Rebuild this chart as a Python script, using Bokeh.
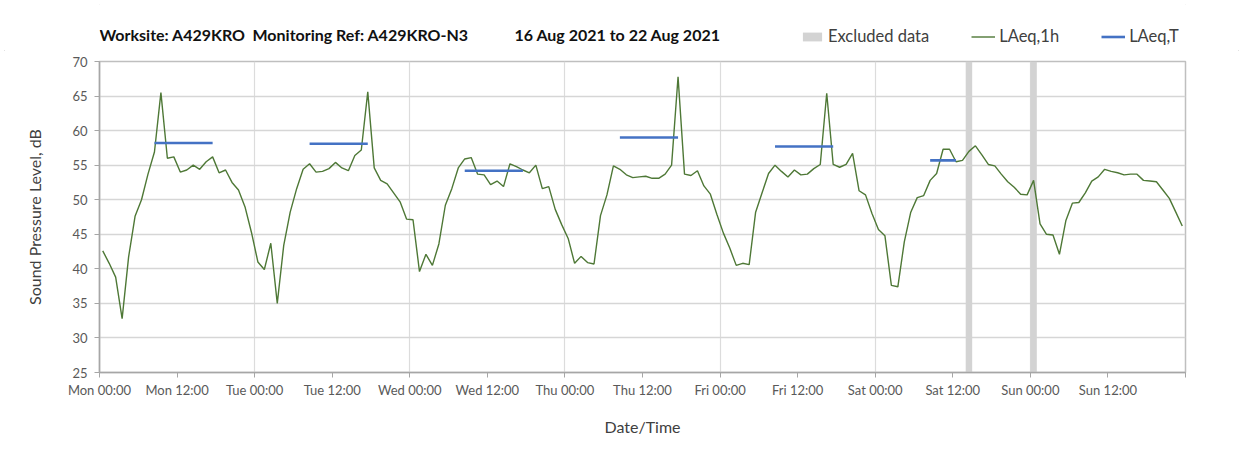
import numpy as np
from bokeh.plotting import figure
from bokeh.layouts import column
from bokeh.models import Legend, LegendItem, Label, FixedTicker, Range1d
from bokeh.embed import file_html
from bokeh.resources import INLINE

# ---------------- data ----------------
laeq_1h = [
    42.6, 40.8, 38.8, 32.8, 41.7, 47.6, 50.0, 53.7, 56.9, 65.5, 56.0, 56.2,
    54.0, 54.3, 55.0, 54.4, 55.5, 56.2, 53.9, 54.3, 52.5, 51.4, 49.0, 45.3,
    41.0, 39.9, 43.7, 35.0, 43.4, 48.2, 51.6, 54.4, 55.2, 54.0, 54.1, 54.5,
    55.4, 54.6, 54.2, 56.4, 57.2, 65.6, 54.6, 52.8, 52.3, 51.0, 49.7, 47.2,
    47.1, 39.6, 42.1, 40.5, 43.6, 49.2, 51.6, 54.6, 55.9, 56.1, 53.7, 53.6,
    52.2, 52.7, 51.9, 55.2, 54.8, 54.3, 53.9, 55.0, 51.6, 51.9, 48.6, 46.4,
    44.4, 40.8, 41.8, 40.9, 40.7, 47.7, 50.7, 54.9, 54.4, 53.6, 53.2, 53.3,
    53.4, 53.1, 53.1, 53.7, 55.0, 67.8, 53.7, 53.5, 54.2, 52.0, 50.8, 47.9,
    45.2, 43.0, 40.5, 40.8, 40.6, 48.2, 51.0, 53.8, 55.0, 54.1, 53.3, 54.3,
    53.6, 53.7, 54.5, 55.1, 65.4, 55.1, 54.7, 55.1, 56.7, 51.3, 50.7, 48.0,
    45.7, 44.8, 37.6, 37.4, 43.9, 48.2, 50.3, 50.6, 52.8, 53.8, 57.3, 57.3,
    55.5, 55.7, 57.0, 57.8, 56.5, 55.1, 54.9, 53.7, 52.6, 51.8, 50.8, 50.7,
    52.8, 46.5, 45.0, 44.9, 42.1, 47.0, 49.5, 49.6, 51.0, 52.7, 53.3, 54.4,
    54.1, 53.9, 53.6, 53.7, 53.7, 52.8, 52.7, 52.6, 51.4, 50.2, 48.2, 46.2,
]
# hour (from Mon 00:00) of each hourly value, plotted mid-hour
hours = [i + 0.5 for i in range(len(laeq_1h))]

# LAeq,T periods (indices into hourly series) and values
period_start_idx = [8, 32, 56, 80, 104, 128]
period_end_idx = [17, 41, 65, 89, 113, 132]
laeq_t = [58.2, 58.1, 54.2, 59.0, 57.7, 55.7]

# excluded hours
excluded_start = [134, 144]
excluded_end = [135, 145]

tick_hours = [0, 12, 24, 36, 48, 60, 72, 84, 96, 108, 120, 132, 144, 156, 168]
tick_labels = ["Mon 00:00", "Mon 12:00", "Tue 00:00", "Tue 12:00", "Wed 00:00",
               "Wed 12:00", "Thu 00:00", "Thu 12:00", "Fri 00:00", "Fri 12:00",
               "Sat 00:00", "Sat 12:00", "Sun 00:00", "Sun 12:00", ""]
day_hours = [24, 48, 72, 96, 120, 144]
y_ticks = [25, 30, 35, 40, 45, 50, 55, 60, 65, 70]

title_parts = ["Worksite: A429KRO", "Monitoring Ref: A429KRO-N3", "16 Aug 2021 to 22 Aug 2021"]
legend_labels = ["Excluded data", "LAeq,1h", "LAeq,T"]

FONT = "Lato"
GREEN = "#4e7836"
BLUE = "#4472c4"
GREY = "#d3d3d3"

W = 1243
HEAD_H = 50
MAIN_H = 409
FRAME_L, FRAME_R = 99, 1185

# ---------------- header (title + legend) ----------------
# header frame is aligned with the main plot frame; its x range is in page pixels
head = figure(width=W, height=HEAD_H, x_range=Range1d(FRAME_L, FRAME_R),
              y_range=Range1d(HEAD_H, 0),
              output_backend="svg", toolbar_location=None, x_axis_type=None, y_axis_type=None,
              min_border=0)
head.grid.visible = False
head.outline_line_color = None

title_x = [99, 252, 514]
for txt, tx in zip(title_parts, title_x):
    head.add_layout(Label(x=tx, y=34, text=txt, text_font=FONT, text_font_size="16px",
                          text_font_style="bold", text_color="#111111",
                          text_baseline="middle"))

nan = [float("nan")]
k_excl = head.quad(left=nan, right=nan, bottom=nan, top=nan, fill_color=GREY, line_color=None)
k_line = head.line(x=nan, y=nan, line_color=GREEN, line_width=1.4)
k_seg = head.line(x=nan, y=nan, line_color=BLUE, line_width=2.6)

legend = Legend(items=[LegendItem(label=legend_labels[0], renderers=[k_excl]),
                       LegendItem(label=legend_labels[1], renderers=[k_line]),
                       LegendItem(label=legend_labels[2], renderers=[k_seg])],
                location=(701, 4), orientation="horizontal",
                border_line_color=None, background_fill_alpha=0,
                label_text_font=FONT, label_text_font_size="16.5px", label_text_color="#404040",
                glyph_width=24, glyph_height=11, label_height=11, label_standoff=4,
                spacing=42, padding=0, margin=0)
head.add_layout(legend, "center")

# ---------------- main plot ----------------
p = figure(width=W, height=MAIN_H, x_range=Range1d(0, 168), y_range=Range1d(25, 70),
           output_backend="svg", toolbar_location=None,
           min_border_left=FRAME_L, min_border_right=W - FRAME_R, min_border_top=11,
           min_border_bottom=87)

excl = p.quad(left=excluded_start, right=excluded_end, bottom=25, top=70,
              fill_color=GREY, line_color=None)
ln = p.line(hours, laeq_1h, line_color=GREEN, line_width=1.4)
segs = p.segment(x0=[hours[i] for i in period_start_idx], y0=laeq_t,
                 x1=[hours[i] for i in period_end_idx], y1=laeq_t,
                 line_color=BLUE, line_width=2.6)

p.xaxis.ticker = FixedTicker(ticks=tick_hours)
p.xaxis.major_label_overrides = {h: t for h, t in zip(tick_hours, tick_labels)}
p.yaxis.ticker = FixedTicker(ticks=y_ticks)
for ax in (p.xaxis[0], p.yaxis[0]):
    ax.minor_tick_line_color = None
    ax.axis_line_color = "#a6a6a6"
    ax.axis_line_width = 1.5
    ax.major_tick_line_color = "#a6a6a6"
    ax.major_tick_in = 0
    ax.major_tick_out = 5
    ax.major_label_text_font = FONT
    ax.major_label_text_font_size = "13px"
    ax.major_label_text_color = "#595959"
    ax.axis_label_text_font = FONT
    ax.axis_label_text_font_style = "normal"
    ax.axis_label_text_color = "#404040"
    ax.axis_label_text_font_size = "16px"
p.xaxis.axis_label = "Date/Time"
p.yaxis.axis_label = "Sound Pressure Level, dB"
p.xaxis.major_label_standoff = 4
p.yaxis.major_label_standoff = 7
p.xaxis.axis_label_standoff = 16
p.yaxis.axis_label_standoff = 25

p.ygrid.ticker = FixedTicker(ticks=y_ticks)
p.ygrid.grid_line_color = "#d6d6d6"
p.ygrid.grid_line_width = 1.6
p.xgrid.ticker = FixedTicker(ticks=day_hours)
p.xgrid.grid_line_color = "#dcdcdc"
p.xgrid.grid_line_width = 1.2
p.outline_line_color = "#bfbfbf"
p.outline_line_width = 1.5

layout = column(head, p, spacing=0,
                styles={"outline": "1px solid #d9d9d9", "outline-offset": "-5px",
                        "border-radius": "6px"})
open("out.html", "w").write(file_html(layout, INLINE))
